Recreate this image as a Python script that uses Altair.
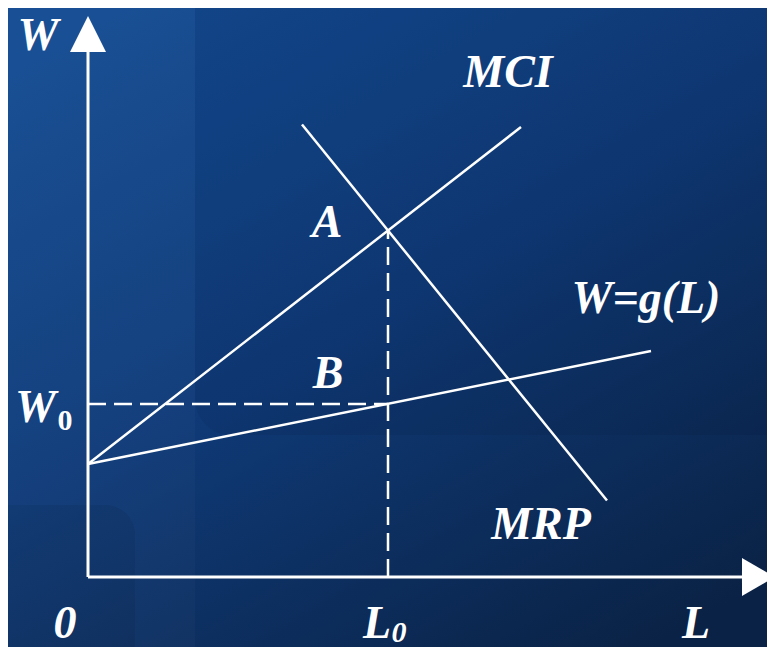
import altair as alt
import pandas as pd

# ---- data (economic units: L on x, W on y) ----
curve_names = ["MCI", "MCI", "MRP", "MRP", "W=g(L)", "W=g(L)"]
curve_L = [0.0, 8.66, 4.28, 10.38, 0.0, 11.26]
curve_W = [2.26, 9.0, 9.05, 1.53, 2.26, 4.52]
curve_order = [0, 1, 0, 1, 0, 1]

guide_names = ["L0 drop", "L0 drop", "W0 level", "W0 level"]
guide_L = [6.0, 6.0, 0.0, 6.0]
guide_W = [0.0, 6.93, 3.46, 3.46]
guide_order = [0, 1, 0, 1]

axis_L = [0.0, 0.0]
axis_W = [0.0, 0.0]
axis_L2 = [0.0, 13.08]
axis_W2 = [10.5, 0.0]

label_text = ["W", "MCI", "A", "B", "W=g(L)", "MRP", "W", "0", "L", "L"]
label_L = [-1.0, 8.4, 4.78, 4.8, 11.16, 9.06, -1.05, -0.46, 5.78, 12.16]
label_W = [10.54, 9.8, 6.8, 3.78, 5.28, 0.76, 3.1, -1.22, -1.22, -1.22]

sub_text = ["0"]
sub_L = [-0.46]
sub_W = [2.94]

sub2_text = ["0"]
sub2_L = [6.22]
sub2_W = [-1.3]

W_, H_ = 759, 639
xs = alt.Scale(domain=[-1.6, 13.58], nice=False, zero=False)
ys = alt.Scale(domain=[-1.4, 11.38], nice=False, zero=False)
X = alt.X("L:Q", scale=xs, axis=None)
Y = alt.Y("W:Q", scale=ys, axis=None)

one = pd.DataFrame({"a": [0]})

bg = alt.Chart(one).mark_rect(
    color=alt.Gradient(
        gradient="linear", x1=0.15, y1=0, x2=0.85, y2=1,
        stops=[alt.GradientStop(color="#144b92", offset=0),
               alt.GradientStop(color="#0f3b79", offset=0.45),
               alt.GradientStop(color="#0a2245", offset=1)],
    )
).encode(x=alt.value(0), x2=alt.value(W_), y=alt.value(0), y2=alt.value(H_))

band = alt.Chart(one).mark_rect(color="#ffffff", opacity=0.025).encode(
    x=alt.value(0), x2=alt.value(187), y=alt.value(0), y2=alt.value(H_))

panel = alt.Chart(one).mark_rect(color="#000814", opacity=0.06, cornerRadius=36).encode(
    x=alt.value(187), x2=alt.value(900), y=alt.value(-60), y2=alt.value(427))

corner = alt.Chart(one).mark_rect(color="#000814", opacity=0.08, cornerRadius=30).encode(
    x=alt.value(-60), x2=alt.value(127), y=alt.value(497), y2=alt.value(760))

axes_df = pd.DataFrame({"L": axis_L, "W": axis_W, "L2": axis_L2, "W2": axis_W2})
axes = alt.Chart(axes_df).mark_rule(color="white", strokeWidth=3).encode(
    x=X, y=Y, x2="L2:Q", y2="W2:Q")

arrow_up = alt.Chart(pd.DataFrame({"L": [0.0], "W": [10.86]})).mark_point(
    shape="M0,-1L1,1L-1,1Z", size=1296, filled=True, color="white", opacity=1, strokeWidth=0
).encode(x=X, y=Y)

arrow_right = alt.Chart(pd.DataFrame({"L": [13.41], "W": [0.0]})).mark_point(
    shape="M0.87,0L-0.87,-1L-0.87,1Z", size=1444, filled=True, color="white", opacity=1, strokeWidth=0
).encode(x=X, y=Y)

curves_df = pd.DataFrame({"name": curve_names, "L": curve_L, "W": curve_W, "o": curve_order})
curves = alt.Chart(curves_df).mark_line(color="white", strokeWidth=2.5).encode(
    x=X, y=Y, detail="name:N", order="o:Q")

guides_df = pd.DataFrame({"name": guide_names, "L": guide_L, "W": guide_W, "o": guide_order})
guides = alt.Chart(guides_df).mark_line(color="white", strokeWidth=2.5, strokeDash=[18, 8]).encode(
    x=X, y=Y, detail="name:N", order="o:Q")

labels_df = pd.DataFrame({"t": label_text, "L": label_L, "W": label_W})
labels = alt.Chart(labels_df).mark_text(
    font="Liberation Serif", fontSize=46, fontStyle="italic", fontWeight="bold",
    color="white", align="center", baseline="alphabetic"
).encode(x=X, y=Y, text="t:N")

sub_df = pd.DataFrame({"t": sub_text, "L": sub_L, "W": sub_W})
subs = alt.Chart(sub_df).mark_text(
    font="Liberation Serif", fontSize=30, fontWeight="bold",
    color="white", align="center", baseline="alphabetic"
).encode(x=X, y=Y, text="t:N")

sub2_df = pd.DataFrame({"t": sub2_text, "L": sub2_L, "W": sub2_W})
subs2 = alt.Chart(sub2_df).mark_text(
    font="Liberation Serif", fontSize=30, fontStyle="italic", fontWeight="bold",
    color="white", align="center", baseline="alphabetic"
).encode(x=X, y=Y, text="t:N")

chart = alt.layer(
    bg, band, panel, corner, guides, curves, axes, arrow_up, arrow_right, labels, subs, subs2
).properties(
    width=W_, height=H_,
    autosize=alt.AutoSizeParams(type="none"),
    padding=0,
    background="#0f3a76",
).configure_view(stroke=None)

chart.save("out.html", embed_options={"renderer": "svg", "actions": False})
